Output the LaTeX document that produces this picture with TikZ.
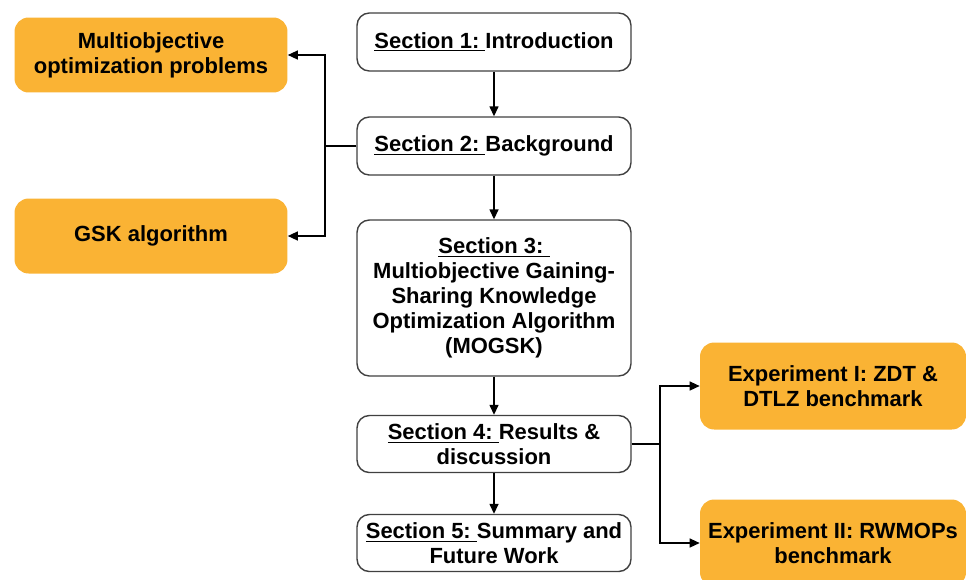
\documentclass[tikz,border=0pt]{standalone}
\usepackage{fontspec}
\setmainfont{Liberation Sans}
\usetikzlibrary{arrows.meta, positioning}
\definecolor{boxorange}{HTML}{FAB334}
\newcommand{\secname}[1]{\underline{Section #1:\ }}

\begin{document}
\begin{tikzpicture}[x=0.02cm, y=-0.02cm, font=\bfseries\fontsize{12.5}{14.2}\selectfont, secbox/.style={draw=black!75, thick, rounded corners=7pt, align=center, minimum width=5.48cm, minimum height=1.16cm, fill=white}, sidebox/.style={fill=boxorange, rounded corners=8pt, align=center, minimum width=5.46cm, minimum height=1.5cm}, arrow/.style={-{Triangle[length=2mm, width=1.8mm]}, thick}]

\clip (0,0) rectangle (966,579);

\node[secbox] (intro) at (494,42) {\secname{1}Introduction};
\node[secbox] (backgr) at (494,146) {\secname{2}Background};
\node[secbox, minimum height=3.12cm] (mogsk) at (494,298) {\secname{3}\\Multiobjective Gaining-\\Sharing Knowledge\\Optimization Algorithm\\(MOGSK)};
\node[secbox, minimum height=1.14cm] (results) at (494,444) {\secname{4}Results \&\\discussion};
\node[secbox, minimum height=1.14cm] (summary) at (494,543) {\secname{5}Summary and\\Future Work};

\node[sidebox] (mop) at (151,55) {Multiobjective\\optimization problems};
\node[sidebox] (gsk) at (151,236) {GSK algorithm};
\node[sidebox, minimum width=5.32cm, minimum height=1.74cm] (exp1) at (833,386) {Experiment I: ZDT \&\\DTLZ benchmark};
\node[sidebox, minimum width=5.32cm, minimum height=1.74cm] (exp2) at (833,543) {Experiment II: RWMOPs\\benchmark};

\coordinate (lsplit) at (325,146);
\coordinate (rsplit) at (660,444);

\draw[arrow] (intro) -- (backgr);
\draw[arrow] (backgr) -- (mogsk);
\draw[arrow] (mogsk) -- (results);
\draw[arrow] (results) -- (summary);

\draw[thick] (backgr.west) -- (lsplit);
\draw[arrow] (lsplit) |- (mop.east);
\draw[arrow] (lsplit) |- (gsk.east);

\draw[thick] (results.east) -- (rsplit);
\draw[arrow] (rsplit) |- (exp1.west);
\draw[arrow] (rsplit) |- (exp2.west);

\end{tikzpicture}
\end{document}
